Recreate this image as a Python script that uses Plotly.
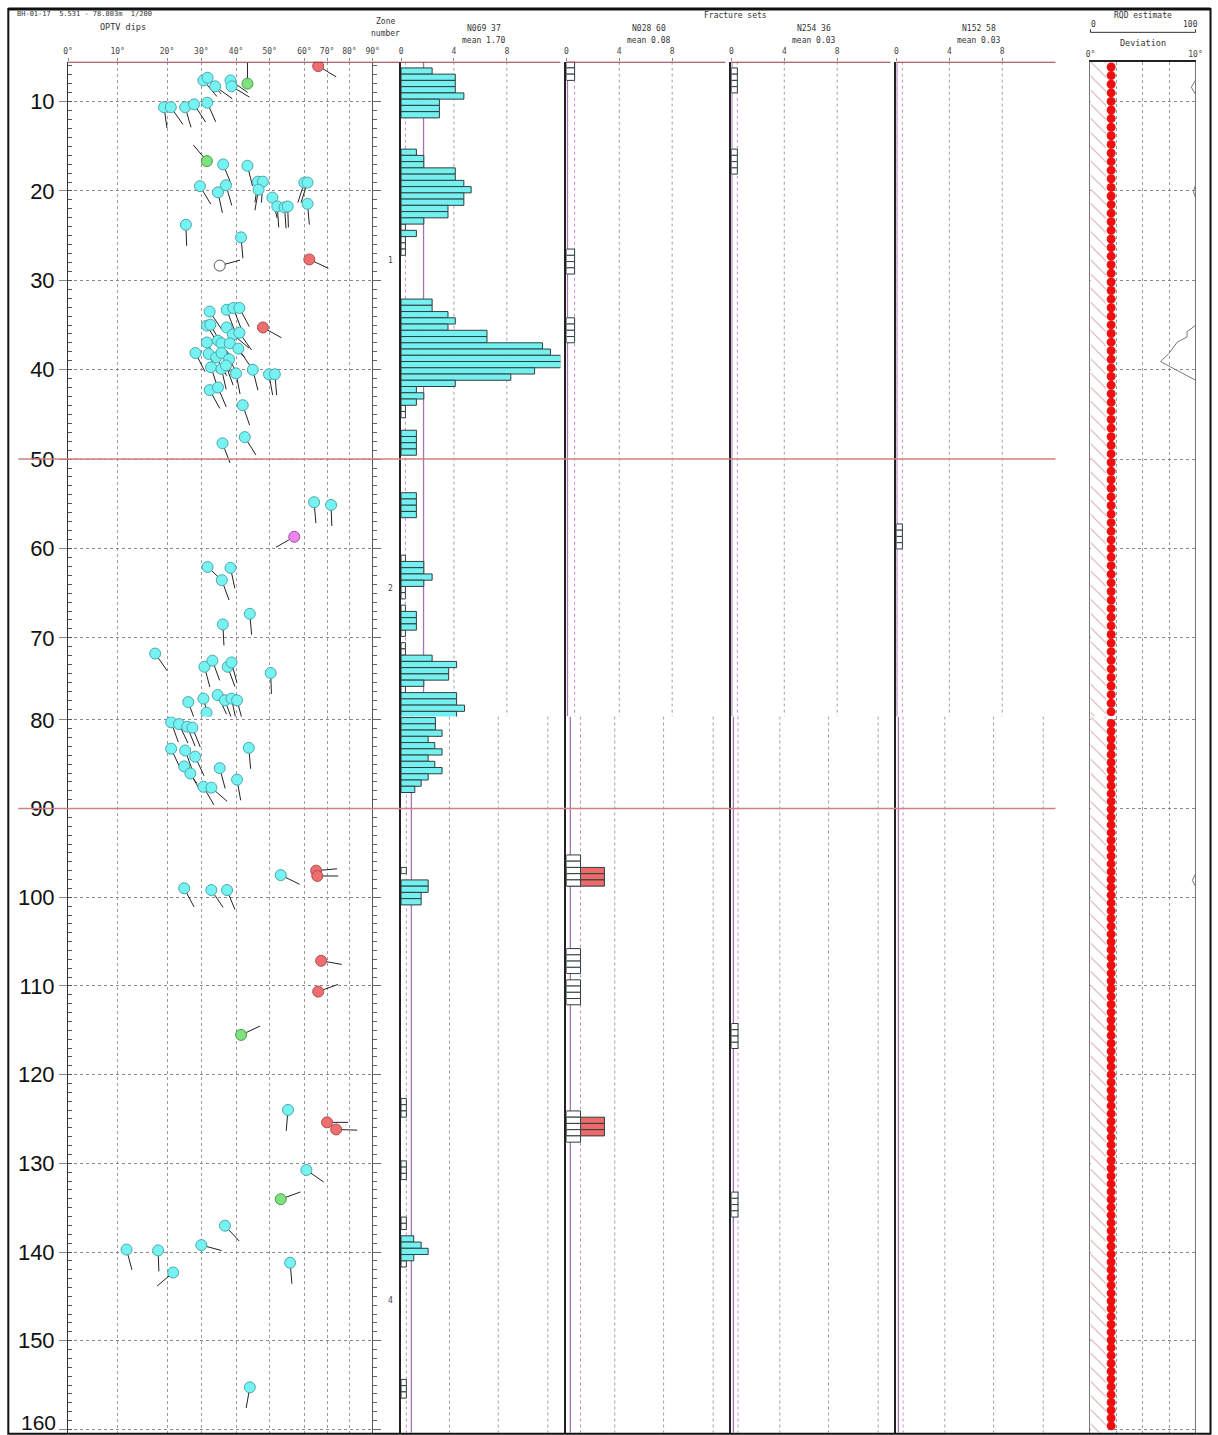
import numpy as np
import plotly.graph_objects as go

# ------------------------------------------------------------------ data
LOG_TOP = 5.531          # top of logged interval (m)
UP_BOT = 78.803          # end of the upper log sheet
LO_TOP, LO_BOT = 79.62, 160.37   # depth span shown on the lower log sheet
BIN_U, BIN_L = 0.699, 0.704      # fracture-count interval as drawn on each sheet (m)
LO_BIN_TOP = 79.74
LO_BIN_FIRST = 105               # first interval number drawn on the lower sheet

depth_ticks = list(range(10, 161, 10))
dip_ticks = [0, 10, 20, 30, 40, 50, 60, 70, 80, 90]
dip_tick_text = ["0°", "10°", "20°", "30°", "40°", "50°", "60°", "70°", "80°", "90°"]
# the log uses a non-linear dip scale: position of each dip tick along the track
dip_tick_pos = [0, 49.6, 99, 133.3, 168, 201.6, 236.3, 259, 281.3, 304.6]

# OPTV tadpoles (depth m, dip deg, dip azimuth deg)
cyan_depth = [7.63, 7.33, 8.29, 7.63, 8.29, 10.62, 10.62, 10.62, 10.31, 10.12,
              17.03, 17.18, 19.46, 19.36, 20.15, 18.96, 18.96, 19.85, 20.74, 21.73, 21.83, 21.73,
              19.06, 19.06, 21.43, 23.78, 25.19,
              33.49, 33.29, 33.09, 33.09, 35.07, 34.97, 35.27, 36.06, 35.86, 36.95, 36.75, 37.05, 37.05,
              37.64, 38.13, 38.23, 38.63, 38.13, 38.83, 39.72, 39.91, 39.52, 40.41, 40.01, 40.51, 40.51,
              42.28, 41.99, 43.97, 48.23, 47.54,
              54.83, 55.13, 62.07, 62.17, 63.55, 67.31, 68.50, 71.76, 73.24, 72.55, 73.24, 72.75, 73.93,
              77.19, 76.80, 76.40, 76.99, 76.80, 76.99, 78.37,
              80.27, 80.47, 80.77, 80.87, 83.25, 83.45, 84.15, 83.15, 85.25, 86.04, 85.44, 87.54, 87.64, 86.74,
              97.50, 98.99, 99.19, 99.19, 123.98, 130.75, 137.03, 139.22, 139.72, 139.82, 141.21, 142.31, 155.25]
cyan_dip = [30.6, 31.8, 34.0, 38.4, 38.7, 19.4, 21.1, 25.3, 27.9, 31.7,
            36.3, 43.4, 29.6, 37.1, 34.8, 46.5, 48.0, 46.7, 50.8, 52.2, 54.3, 55.2,
            60.0, 61.4, 61.4, 25.5, 41.5,
            32.4, 37.3, 39.2, 41.0, 31.6, 32.6, 37.3, 39.1, 41.0, 31.6, 34.8, 35.8, 38.2,
            40.7, 28.3, 32.1, 34.3, 35.8, 38.0, 32.8, 35.8, 37.1, 40.0, 45.0, 49.8, 51.5,
            32.4, 34.8, 42.0, 36.1, 42.6,
            64.3, 71.8, 31.8, 38.4, 35.9, 44.1, 36.2, 17.6, 30.9, 33.2, 37.6, 38.7, 50.3,
            26.2, 30.6, 34.7, 36.8, 38.7, 40.3, 31.5,
            21.2, 23.5, 25.9, 27.4, 21.2, 25.3, 28.2, 43.8, 25.0, 26.8, 35.3, 30.6, 32.9, 40.3,
            53.2, 25.0, 32.9, 37.4, 55.3, 60.9, 36.8, 30.0, 11.8, 18.2, 55.9, 21.8, 44.1]
cyan_azi = [140, 140, 126, 125, 121, 172, 145, 164, 147, 156,
            158, 166, 149, 164, 168, 188, 184, 190, 167, 176, 176, 178,
            198, 198, 175, 178, 175,
            146, 159, 159, 152, 148, 150, 161, 130, 145, 150, 140, 150, 133,
            146, 153, 155, 150, 155, 150, 162, 167, 160, 169, 166, 170, 175,
            151, 157, 161, 159, 148,
            175, 178, 133, 168, 160, 175, 177, 145, 165, 160, 160, 165, 178,
            160, 165, 155, 160, 168, 165, 160,
            160, 155, 158, 158, 155, 160, 155, 175, 143, 150, 165, 150, 131, 170,
            116, 152, 146, 158, 185, 125, 137, 105, 165, 178, 175, 230, 190]

red_depth = [6.02, 27.66, 35.27, 97.00, 97.60, 107.16, 110.64, 125.38, 126.18]
red_dip = [66.1, 62.2, 48.0, 65.2, 65.7, 67.4, 66.1, 70.0, 74.1]
red_azi = [121, 115, 119, 85, 90, 100, 70, 90, 92]

green_depth = [7.99, 16.66, 115.52, 134.04]
green_dip = [43.4, 31.6, 41.5, 53.2]
green_azi = [0, 320, 65, 70]

magenta_depth = [58.69]
magenta_dip = [57.1]
magenta_azi = [240]

open_depth = [28.35]
open_dip = [35.3]
open_azi = [75]

# fracture-set histograms: interval number below LOG_TOP and fracture frequency
n069_bin = [1, 2, 3, 4, 5, 6, 7, 8,
            14, 15, 16, 17, 18, 19, 20, 21, 22, 23, 24, 25, 27,
            38, 39, 40, 41, 42, 43, 44, 45, 46, 47, 48, 49, 50, 51, 52, 53, 54,
            59, 60, 61, 62, 69, 70, 71, 72, 80, 81, 82, 83, 88, 89, 90,
            95, 96, 97, 98, 99, 101, 102, 103, 104,
            105, 106, 107, 108, 109, 110, 111, 112, 113, 114, 115, 116,
            131, 132, 133, 134, 188, 189, 190, 191]
n069_freq = [2.35, 4.1, 4.1, 4.1, 4.75, 2.9, 2.9, 2.9,
             1.16, 1.72, 1.72, 4.1, 4.1, 4.75, 5.3, 4.75, 4.75, 3.55, 3.55, 1.72, 1.16,
             2.35, 2.35, 3.55, 4.1, 3.55, 6.5, 6.5, 10.7, 11.3, 12.1, 12.1, 10.1, 8.3, 4.1, 1.16, 1.72, 1.16,
             1.16, 1.16, 1.16, 1.16, 1.16, 1.16, 1.16, 1.16, 1.72, 1.72, 2.35, 1.72, 1.16, 1.16, 1.16,
             2.35, 4.2, 3.6, 3.6, 1.72, 4.2, 4.2, 4.8, 4.2,
             2.6, 2.6, 3.1, 2.05, 2.55, 3.1, 2.05, 2.55, 3.1, 2.05, 1.52, 1.04,
             2.05, 2.05, 1.52, 1.52, 0.96, 1.52, 2.05, 0.96]
n069_empty = [26, 28, 29, 30, 55, 56, 79, 84, 85, 87, 91, 93, 94, 100, 129,
              166, 167, 168, 176, 177, 178, 185, 186, 192, 211, 212, 213]

n028_bin = [129, 130, 131, 169, 170, 171]
n028_freq = [2.88, 2.88, 2.88, 2.88, 2.88, 2.88]
n028_empty = [0, 1, 2, 30, 31, 32, 33, 41, 42, 43, 44, 127, 128, 129, 130, 131,
              142, 143, 144, 145, 147, 148, 149, 150, 168, 169, 170, 171, 172]

n254_empty = [1, 2, 3, 4, 14, 15, 16, 17, 154, 155, 156, 157, 181, 182, 183, 184]
n152_empty = [74, 75, 76, 77]

set_names = ["N069 37", "N028 60", "N254 36", "N152 58"]
set_means = ["mean 1.70", "mean 0.08", "mean 0.03", "mean 0.03"]
mean_upper = [1.70, 0.08, 0.03, 0.03]
mean_lower = [0.78, 0.30, 0.15, 0.15]
ref_upper = [0.33, 0.62, 0.45, 0.45]
ref_lower = [0.40, 1.07, 0.50, 0.50]
grid_upper = [4, 8]
grid_lower = [3.66, 7.35, 11.1]

zone_bounds = [50, 90]
zone_label = ["1", "2", "4"]
zone_label_depth = [27.77, 64.49, 145.5]

# RQD / deviation track
rqd_hatch = 15
rqd_dot_value = 19.7
rqd_upper_depths = np.arange(6.13, 78.6, 0.962)
rqd_lower_depths = np.arange(80.4, 160.2, 0.88)
dev_depth = [5.531, 7.6, 8.39, 9.18, 19.36, 20.06, 20.75, 34.06, 35.05, 35.74, 36.33, 36.92,
             38.2, 39.09, 40.08, 41.17, 78.8, 79.62, 97.39, 98.09, 98.79, 160.37]
dev_value = [10, 10, 9.6, 10, 10, 9.8, 10, 10, 10, 9.2, 9.2, 8.26,
             7.46, 6.67, 8.26, 10, 10, 10, 10, 9.7, 10, 10]

# ------------------------------------------------------------------ geometry helpers
W, H = 1218, 1435
SHEETS = [dict(top=LOG_TOP, bot=UP_BOT, px=(61.3, 716.0)),
          dict(top=LO_TOP, bot=LO_BOT, px=(716.0, 1432.0))]
for s in SHEETS:
    s["pxm"] = (s["px"][1] - s["px"][0]) / (s["bot"] - s["top"])
TAIL = 21.0
# the capture squeezes the page a little; place things so they land where intended
XS, XO = 0.990, 4.7
YS, YO = 0.9935, 8.65


def px(x):
    return min(max((x - XO) / XS, 0), W - 0.5) / W


def py(y):
    return 1 - min(max((y - YO) / YS, 0), H) / H


def dip_pos(d):
    return np.interp(d, dip_ticks, dip_tick_pos)


def sheet_of(d):
    return 0 if d <= UP_BOT else 1


def bin_centre(k):
    if k < LO_BIN_FIRST:
        return LOG_TOP + (k + 0.5) * BIN_U
    return LO_BIN_TOP + (k - LO_BIN_FIRST + 0.5) * BIN_L


def bin_sheet(k):
    return 0 if k < LO_BIN_FIRST else 1


def xname(p):
    return "x" if p == 0 else f"x{p + 1}"


def yname(p, s):
    n = p + 1 + 8 * s
    return "y" if n == 1 else f"y{n}"


def lname(a):
    return a[0] + "axis" + a[1:]


fig = go.Figure()

# ------------------------------------------------------------------ tadpoles
kinds = [
    (cyan_depth, cyan_dip, cyan_azi, "#76F2F2", "#4aa9ab"),
    (red_depth, red_dip, red_azi, "#EE6F6F", "#b04c4c"),
    (green_depth, green_dip, green_azi, "#7EE27E", "#4a9a4a"),
    (magenta_depth, magenta_dip, magenta_azi, "#EE84EE", "#a050a0"),
    (open_depth, open_dip, open_azi, "#FFFFFF", "#555555"),
]
for s in (0, 1):
    tx, ty = [], []
    for dep, dip, az, _, _ in kinds:
        for d, a, z in zip(dep, dip, az):
            if sheet_of(d) != s:
                continue
            x0 = float(dip_pos(a))
            r = np.radians(z)
            tx += [x0, x0 + TAIL * np.sin(r), None]
            ty += [d, d - TAIL * np.cos(r) / SHEETS[s]["pxm"], None]
    fig.add_trace(go.Scatter(x=tx, y=ty, mode="lines", line=dict(color="#222222", width=1),
                             xaxis="x", yaxis=yname(0, s), hoverinfo="skip", showlegend=False))
for s in (0, 1):
    for dep, dip, az, fill, edge in kinds:
        sel = [i for i, d in enumerate(dep) if sheet_of(d) == s]
        if not sel:
            continue
        fig.add_trace(go.Scatter(x=dip_pos([dip[i] for i in sel]), y=[dep[i] for i in sel],
                                 mode="markers",
                                 marker=dict(size=11, color=fill, line=dict(color=edge, width=1)),
                                 xaxis="x", yaxis=yname(0, s), showlegend=False))

# ------------------------------------------------------------------ histograms
CYAN = "#74F0F0"
EDGE = "#2f3f3f"
empties = [n069_empty, n028_empty, n254_empty, n152_empty]
refs = [ref_upper, ref_lower]


def add_bars(p, bins, values, fill):
    for s in (0, 1):
        sel = [i for i, k in enumerate(bins) if bin_sheet(k) == s]
        if not sel:
            continue
        fig.add_trace(go.Bar(y=[bin_centre(bins[i]) for i in sel], x=[values[i] for i in sel],
                             base=0, orientation="h", width=BIN_U if s == 0 else BIN_L,
                             xaxis=xname(p), yaxis=yname(p, s),
                             marker=dict(color=fill, line=dict(color=EDGE, width=1)),
                             showlegend=False))


def empty_values(bins, i):
    return [refs[bin_sheet(k)][i] for k in bins]


add_bars(2, n069_empty, empty_values(n069_empty, 0), "white")
add_bars(2, n069_bin, n069_freq, CYAN)
add_bars(3, n028_bin, n028_freq, "#EE6B6B")
for i in (1, 2, 3):
    add_bars(2 + i, empties[i], empty_values(empties[i], i), "white")

# ------------------------------------------------------------------ RQD / deviation track
for s in (0, 1):
    sh = SHEETS[s]
    fig.add_trace(go.Bar(y=[(sh["top"] + sh["bot"]) / 2], x=[rqd_hatch], base=0, orientation="h",
                         width=sh["bot"] - sh["top"], xaxis="x8", yaxis=yname(6, s),
                         marker=dict(color="white", line=dict(width=0),
                                     pattern=dict(shape="\\", fgcolor="#b05050", bgcolor="white",
                                                  size=10, solidity=0.1)),
                         showlegend=False))
    sel = [i for i, d in enumerate(dev_depth) if sheet_of(d) == s]
    fig.add_trace(go.Scatter(x=[dev_value[i] for i in sel], y=[dev_depth[i] for i in sel],
                             mode="lines", line=dict(color="#777", width=1),
                             xaxis="x7", yaxis=yname(6, s), showlegend=False))
    dd = rqd_upper_depths if s == 0 else rqd_lower_depths
    fig.add_trace(go.Scatter(x=[rqd_dot_value] * len(dd), y=dd, mode="markers",
                             marker=dict(size=9, color="#EE1010"),
                             xaxis="x8", yaxis=yname(6, s), showlegend=False))

# ------------------------------------------------------------------ axes
tickfont = dict(family="DejaVu Sans Mono", size=8, color="#444")
layout = dict(width=W, height=H, margin=dict(l=0, r=0, t=0, b=0),
              paper_bgcolor="white", plot_bgcolor="rgba(0,0,0,0)", barmode="overlay",
              showlegend=False)

x_dom = [(67.7, 372.3), (372.3, 400.7), (400.7, 560), (566, 725), (731, 890), (896, 1055),
         (1090, 1195)]
layout["xaxis"] = dict(domain=[px(67.7), px(372.3)], range=[0, 304.6], side="top", anchor="y",
                       tickvals=dip_tick_pos, ticktext=dip_tick_text, tickfont=tickfont,
                       ticks="outside", ticklen=3, tickcolor="#888",
                       showgrid=True, gridcolor="#9a9a9a", griddash="dot", gridwidth=1,
                       zeroline=False, showline=False)
layout["xaxis2"] = dict(domain=[px(372.3), px(400.7)], range=[0, 1], anchor="y2", visible=False)
for p in range(2, 6):
    a, b = x_dom[p]
    layout[lname(xname(p))] = dict(domain=[px(a), px(b)], range=[0, (b - a) / 13.22], side="top",
                                   anchor=yname(p, 0), tickvals=[0, 4, 8], tickfont=tickfont,
                                   ticks="outside", ticklen=3, tickcolor="#888",
                                   showgrid=False, zeroline=False, showline=False)
layout["xaxis7"] = dict(domain=[px(1090), px(1195)], range=[0, 10], side="top", anchor="y7",
                        tickvals=[0, 2.5, 5, 7.5, 10], ticktext=["0°", "", "", "", "10°"],
                        tickfont=tickfont, ticks="", showgrid=True, gridcolor="#9a9a9a",
                        griddash="dot", zeroline=False, showline=True, linecolor="#222",
                        linewidth=1.5)
layout["xaxis8"] = dict(range=[0, 100], overlaying="x7", anchor="y7", visible=False)

for s in (0, 1):
    sh = SHEETS[s]
    dom = [py(sh["px"][1]), py(sh["px"][0])]
    rng = [sh["bot"], sh["top"]]
    ticks_here = [t for t in depth_ticks if sh["top"] <= t <= sh["bot"]]
    base = dict(domain=dom, range=rng, zeroline=False)
    layout[lname(yname(0, s))] = dict(
        base, anchor="x", tickvals=ticks_here,
        ticktext=[str(t) if t < 160 else "" for t in ticks_here],
        tickfont=dict(family="Liberation Sans", size=22, color="#111"),
        ticks="outside", ticklen=8, tickcolor="#888",
        minor=dict(dtick=1, tick0=0, ticks="inside", ticklen=4, tickcolor="#555"),
        showgrid=True, gridcolor="#8a8a8a", griddash="dot", gridwidth=1,
        showline=True, linecolor="#333", linewidth=1)
    layout[lname(yname(1, s))] = dict(
        base, anchor="x2", tickvals=ticks_here, showticklabels=False, ticks="inside",
        ticklen=8, tickcolor="#666",
        minor=dict(dtick=1, tick0=0, ticks="inside", ticklen=4, tickcolor="#666"),
        showgrid=False, showline=True, linecolor="#555", linewidth=1)
    for p in range(2, 6):
        layout[lname(yname(p, s))] = dict(base, anchor=xname(p), showgrid=False,
                                          showticklabels=False, ticks="", showline=True,
                                          linecolor="#222", linewidth=1.5)
    layout[lname(yname(6, s))] = dict(
        base, anchor="x7", tickvals=ticks_here, showticklabels=False, ticks="",
        showgrid=True, gridcolor="#8a8a8a", griddash="dot", showline=True, mirror=True,
        linecolor="#777", linewidth=1)
fig.update_layout(**layout)

# ------------------------------------------------------------------ reference lines
shapes = []
means = [mean_upper, mean_lower]
grids = [grid_upper, grid_lower]
for i in range(4):
    p = 2 + i
    for s in (0, 1):
        sh = SHEETS[s]
        yref = yname(p, s)
        for g in grids[s]:
            shapes.append(dict(type="line", xref=xname(p), yref=yref, x0=g, x1=g,
                               y0=sh["top"], y1=sh["bot"],
                               line=dict(color="#a0a0a0", width=1, dash="dot"), layer="below"))
        v = refs[s][i]
        shapes.append(dict(type="line", xref=xname(p), yref=yref, x0=v, x1=v,
                           y0=sh["top"], y1=sh["bot"],
                           line=dict(color="#c48fc8", width=1, dash="dot"), layer="below"))
        v = means[s][i]
        shapes.append(dict(type="line", xref=xname(p), yref=yref, x0=v, x1=v,
                           y0=sh["top"], y1=sh["bot"],
                           line=dict(color="#a673b4", width=1.3), layer="below"))

for a, b in [(67.7, 560), (566, 725), (731, 890), (896, 1055)]:
    shapes.append(dict(type="line", xref="paper", yref="y", x0=px(a), x1=px(b),
                       y0=LOG_TOP, y1=LOG_TOP, line=dict(color="#963636", width=2)))
for zb in zone_bounds:
    shapes.append(dict(type="line", xref="paper", yref=yname(0, sheet_of(zb)), x0=px(18),
                       x1=px(1055), y0=zb, y1=zb, line=dict(color="#cf8080", width=1.5)))

shapes.append(dict(type="path", xref="paper", yref="paper",
                   path=f"M {px(1090)},{py(29)} L {px(1090)},{py(32)} L {px(1195)},{py(32)} L {px(1195)},{py(29)}",
                   line=dict(color="#333", width=1)))
shapes.append(dict(type="rect", xref="paper", yref="paper", x0=px(8), x1=px(1212),
                   y0=py(1433), y1=py(6), line=dict(color="#111", width=2)))
shapes.append(dict(type="line", xref="paper", yref="paper", x0=px(8), x1=px(1212),
                   y0=py(6), y1=py(6), line=dict(color="#111", width=3)))
fig.update_layout(shapes=shapes)

# ------------------------------------------------------------------ text
ann = []
hdr = dict(family="DejaVu Sans Mono", size=8, color="#333")


def text(x, y, s, size=8, anchor="center"):
    f = dict(hdr, size=size)
    ann.append(dict(x=px(x), y=py(y), xref="paper", yref="paper", text=s, showarrow=False,
                    font=f, xanchor=anchor, yanchor="middle"))


text(15, 14, "BH-01-17  5.531 - 78.803m  1/200", size=7, anchor="left")
text(123, 27, "OPTV dips", size=8.5)
text(385, 21, "Zone", size=8)
text(385, 33, "number", size=8)
text(735, 15, "Fracture sets", size=8)
for (a, b), nm, mn in zip(x_dom[2:6], set_names, set_means):
    c = (a + b) / 2 + 3
    text(c, 28, nm, size=8)
    text(c, 40, mn, size=8)
text(1143, 15, "RQD estimate", size=8)
text(1093, 24, "0", size=8)
text(1190, 24, "100", size=8)
text(1143, 43, "Deviation", size=8.5)
for lab, d in zip(zone_label, zone_label_depth):
    ann.append(dict(x=px(386), y=d, xref="paper", yref=yname(1, sheet_of(d)), text=lab,
                    showarrow=False, font=dict(family="DejaVu Sans Mono", size=8, color="#444")))
# the last depth label sits at the very bottom edge of the page, so it is placed explicitly
ann.append(dict(x=px(58), y=py(1422), xref="paper", yref="paper", text=str(depth_ticks[-1]),
                showarrow=False, xanchor="right", yanchor="middle",
                font=dict(family="Liberation Sans", size=21, color="#111")))
fig.update_layout(annotations=ann)

fig.write_html("out.html")
